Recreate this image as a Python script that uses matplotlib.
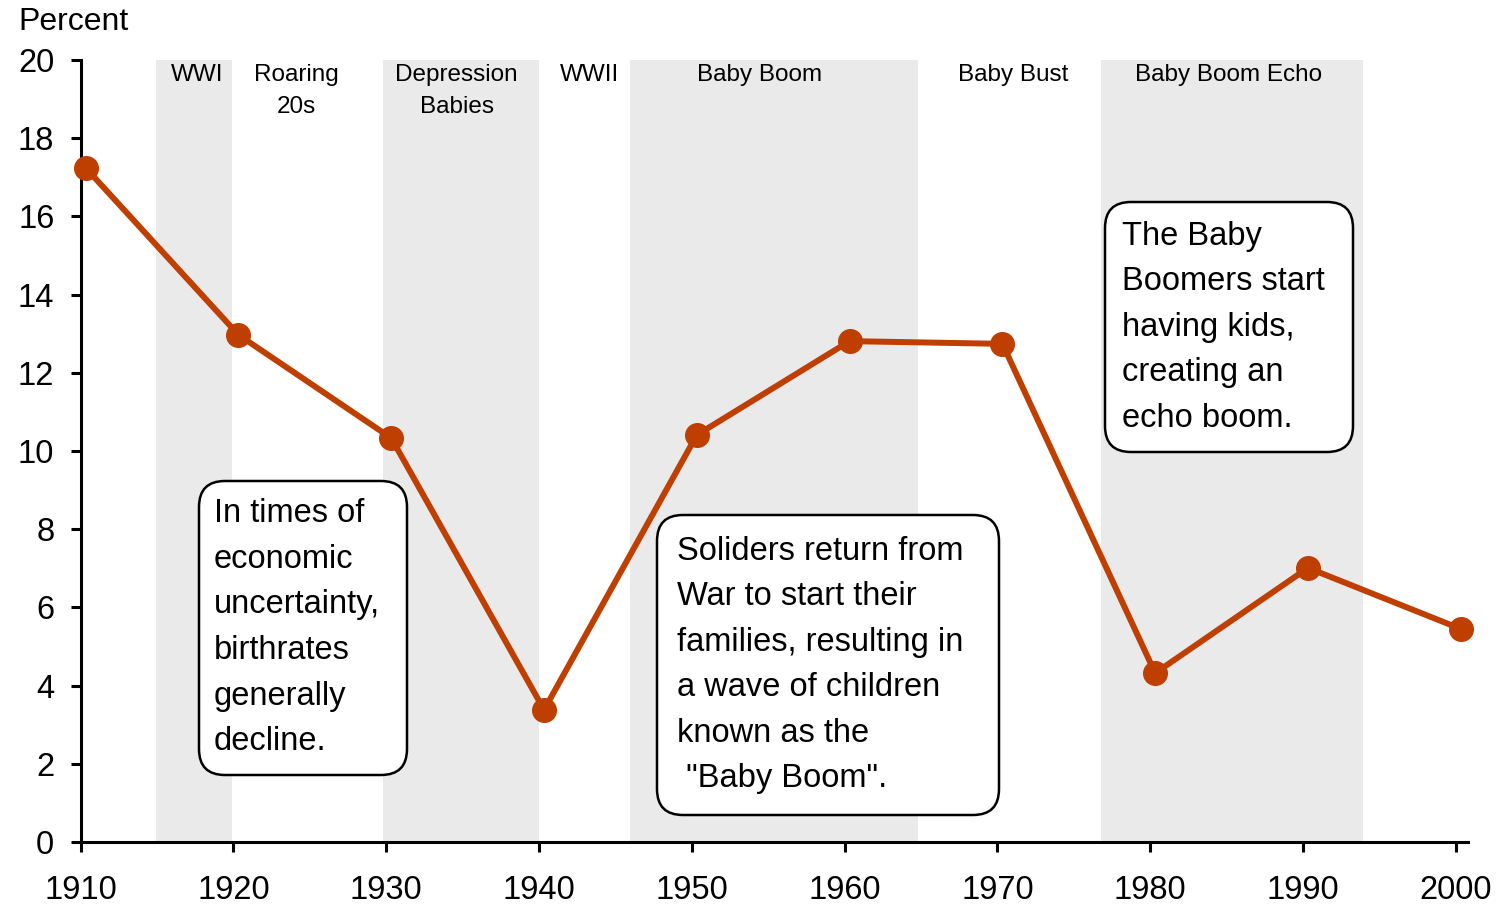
import matplotlib.pyplot as plt
from matplotlib.patches import FancyBboxPatch
from matplotlib.transforms import ScaledTranslation

plt.rcParams['font.family'] = ['Liberation Sans', 'DejaVu Sans']

# birth rate change, percent
years = [1910, 1920, 1930, 1940, 1950, 1960, 1970, 1980, 1990, 2000]
rate = [17.24, 12.97, 10.33, 3.38, 10.41, 12.81, 12.74, 4.32, 7.01, 5.45]

# shaded eras
shade_start = [1914.9, 1929.8, 1945.95, 1976.8]
shade_end = [1919.9, 1940.0, 1964.8, 1993.9]

era_names = ["WWI", "Roaring\n20s", "Depression\nBabies", "WWII",
             "Baby Boom", "Baby Bust", "Baby Boom Echo"]
era_centers = [1917.6, 1924.1, 1934.6, 1943.3, 1954.4, 1971.0, 1985.1]

notes = [
    ["In times of", "economic", "uncertainty,", "birthrates",
     "generally", "decline."],
    ["Soliders return from", "War to start their", "families, resulting in",
     "a wave of children", "known as the", " \"Baby Boom\"."],
    ["The Baby", "Boomers start", "having kids,", "creating an",
     "echo boom."],
]

W, H = 1503, 905
fig = plt.figure(figsize=(W/100, H/100), dpi=100)
ax_l, ax_r, ax_b, ax_t = 80.7, 1468, 842, 60
ax = fig.add_axes([ax_l/W, 1 - ax_b/H, (ax_r-ax_l)/W, (ax_b-ax_t)/H])
aw, ah = ax_r - ax_l, ax_b - ax_t


def px(x, y):
    # pixel position in the reference -> axes fraction
    return (x - ax_l)/aw, (ax_b - y)/ah


for s, e in zip(shade_start, shade_end):
    ax.axvspan(s, e, color="#EAEAEA", lw=0, zorder=0)

# points sit a few pixels right of their ticks, as in the original
shift = ax.transData + ScaledTranslation(5/100, 0, fig.dpi_scale_trans)
ax.plot(years, rate, color="#BF3F00", lw=4.3, marker="o", ms=17,
        zorder=5, clip_on=False, transform=shift)

ax.set_xlim(1910, 2000.8)
ax.set_ylim(0, 20)
ax.set_xticks(years)
ax.set_yticks(range(0, 21, 2))
for sp in ["top", "right"]:
    ax.spines[sp].set_visible(False)
for sp in ["left", "bottom"]:
    ax.spines[sp].set_linewidth(2.2)
ax.tick_params(axis="both", length=7, width=2.2, labelsize=23.5)
ax.tick_params(axis="y", pad=12)
ax.tick_params(axis="x", pad=17)

fig.text(18/W, 1 - 22/H, "Percent", fontsize=23, ha="left", va="center")

# era labels along the top
for name, xc in zip(era_names, era_centers):
    for i, line in enumerate(name.split("\n")):
        ax.text(xc, px(0, 75 + 32*i)[1], line, fontsize=17.5,
                ha="center", va="center",
                transform=ax.get_xaxis_transform())

# rounded note boxes: left, top, right, bottom in pixels; text start
boxes = [(199, 481, 407, 775), (657, 515, 999, 815), (1105, 202, 1353, 452)]
text_start = [(214, 514), (677, 551), (1122, 236)]

for (x0, y0, x1, y1), (tx, ty), lines in zip(boxes, text_start, notes):
    fx0, fy0 = px(x0, y1)
    fx1, fy1 = px(x1, y0)
    box = FancyBboxPatch((fx0, fy0), fx1 - fx0, fy1 - fy0,
                         boxstyle="round,pad=0,rounding_size=%f" % (26/aw),
                         mutation_aspect=aw/ah,
                         transform=ax.transAxes, fc="white", ec="black",
                         lw=1.8, zorder=6)
    ax.add_patch(box)
    for i, line in enumerate(lines):
        ax.text(*px(tx, ty + 45.5*i), line, fontsize=23.5,
                ha="left", va="center", transform=ax.transAxes, zorder=7)

fig.savefig("out.png", dpi=100)
